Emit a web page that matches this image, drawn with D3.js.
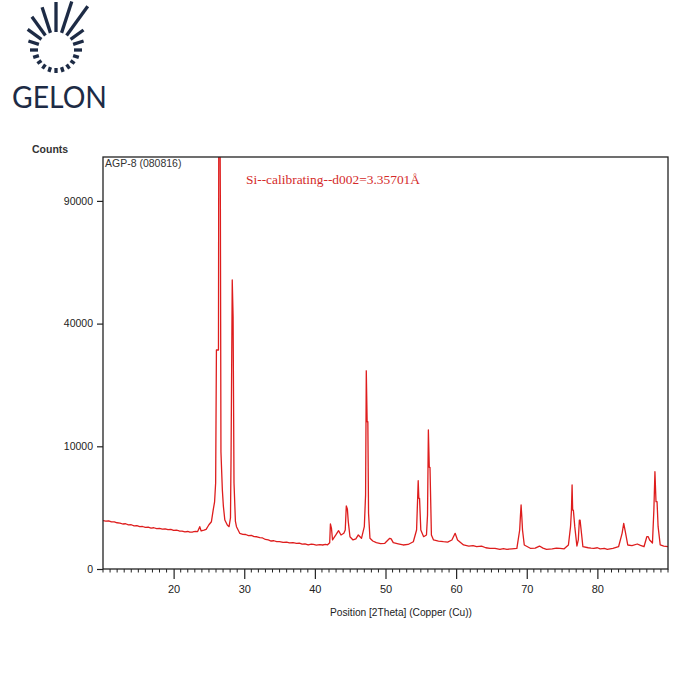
<!DOCTYPE html>
<html><head><meta charset="utf-8">
<script src="https://cdn.jsdelivr.net/npm/d3@7"></script>
<style>html,body{margin:0;padding:0;background:#fff;}svg{display:block;}</style>
</head><body>
<svg id="c" width="700" height="700"></svg>
<script>
// ---- data ----
const twoTheta = [10.0,10.4,10.8,11.2,11.6,12.0,12.4,12.8,13.2,13.6,14.0,14.4,14.8,15.2,15.6,16.0,16.4,16.8,17.2,17.6,18.0,18.4,18.8,19.2,19.6,20.0,20.4,20.8,21.2,21.6,22.0,22.3,22.7,23.1,23.4,23.7,23.9,24.3,24.6,25.0,25.35,25.6,25.8,25.95,26.06,26.35,26.40,26.55,26.62,26.70,26.90,27.05,27.25,27.6,27.85,28.05,28.13,28.30,28.42,28.55,28.75,28.9,29.36,29.8,30.2,30.6,31.0,31.4,31.8,32.2,32.6,33.0,33.4,33.8,34.2,34.6,35.0,35.5,36.0,36.4,36.9,37.4,37.8,38.2,38.6,39.05,39.5,39.8,40.2,40.7,41.1,41.5,41.8,42.1,42.2,42.35,42.5,42.97,43.35,43.7,44.1,44.3,44.45,44.6,44.73,44.97,45.4,45.8,46.15,46.6,47.0,47.18,47.28,47.40,47.5,47.6,47.8,48.2,48.7,49.3,49.9,50.6,50.8,51.1,51.8,52.5,53.2,53.94,54.4,54.55,54.63,54.72,54.82,55.0,55.4,55.8,55.95,56.07,56.2,56.3,56.5,56.8,57.5,58.2,58.8,59.4,59.86,60.2,61.05,61.8,62.4,62.9,63.6,64.2,64.8,65.5,66.2,66.7,67.2,67.9,68.6,69.0,69.1,69.2,69.3,69.4,69.65,70.5,71.2,71.8,72.3,72.8,73.6,74.2,74.7,75.3,75.9,76.2,76.33,76.42,76.5,76.6,76.8,77.1,77.3,77.45,77.55,77.7,77.95,78.7,79.1,79.5,80.0,80.4,81.0,81.4,82.2,83.0,83.5,83.73,84.0,84.3,84.9,85.65,86.1,86.6,87.0,87.2,87.4,87.8,88.0,88.15,88.3,88.45,88.6,88.9,89.4,90.0];
const counts = [1550,1520,1540,1470,1480,1420,1400,1345,1360,1290,1300,1240,1250,1190,1200,1150,1160,1110,1130,1080,1100,1060,1070,1030,1040,990,1000,960,950,920,935,900,910,940,930,1190,960,1000,1045,1300,1485,2310,3000,4910,31860,31860,150000,150000,88000,9140,4150,2580,1595,1285,1190,1730,8130,55500,42300,4910,1500,1190,845,800,790,740,750,700,690,650,640,580,560,520,530,495,500,470,480,450,460,438,445,410,420,383,410,400,380,395,383,400,390,460,1345,1100,560,770,975,770,850,1010,2640,2400,1490,693,560,600,770,626,1190,3640,26100,14400,14400,2060,626,520,460,430,438,626,600,460,420,383,400,495,1010,3320,5180,3320,3320,1010,693,770,1940,12830,6870,6870,770,560,520,495,480,560,845,560,383,350,360,330,346,300,285,285,258,275,258,270,285,1010,1820,2720,1820,1010,383,285,290,350,290,258,270,290,285,270,383,1190,2310,4690,2310,2310,1190,350,560,1590,1590,1010,330,300,290,285,300,270,280,258,280,330,845,1385,845,383,360,415,370,330,693,693,560,450,2310,6290,3010,3010,1190,383,350,330];
const yTicks = [0, 10000, 40000, 90000];
const xTicks = [20, 30, 40, 50, 60, 70, 80];
const xMinorTicks = d3.range(10, 91, 1);
const sampleLabel = "AGP-8  (080816)";
const noteLabel = "Si--calibrating--d002=3.35701Å";
const yTitle = "Counts";
const xTitle = "Position [2Theta] (Copper (Cu))";
const brand = "GELON";
// logo rays: angle (deg clockwise from top) and outer radius
const rayAngles = [0,18,36,54,72,90,108,126,144,162,180,198,216,234,252,270,288,306,324,342];
const rayOuter  = [48,51,54,34,29,26,24,23,23,23,23,23,23,23,24,26,29,35,41,45];

// ---- layout ----
const svg = d3.select("#c");
const L = 103, R = 668, T = 157, B = 569;
const x = d3.scaleLinear().domain([10, 90]).range([L, R]);
const y = d3.scaleSqrt().domain([0, 112750]).range([B, T]);

// logo
const navy = "#1d2b45";
const lg = svg.append("g").attr("transform", "translate(56,50)");
lg.selectAll("line").data(rayAngles).join("line")
  .attr("x1", a => 18 * Math.sin(a * Math.PI / 180))
  .attr("y1", a => -18 * Math.cos(a * Math.PI / 180))
  .attr("x2", (a, i) => rayOuter[i] * Math.sin(a * Math.PI / 180))
  .attr("y2", (a, i) => -rayOuter[i] * Math.cos(a * Math.PI / 180))
  .attr("stroke", navy).attr("stroke-width", 3.3);
svg.append("text").attr("x", 12).attr("y", 107.5)
  .attr("font-family", "Lato, 'Open Sans', sans-serif").attr("font-size", 30)
  .attr("fill", navy).attr("textLength", 95).attr("lengthAdjust", "spacingAndGlyphs")
  .text(brand);

// clip
svg.append("clipPath").attr("id", "pa").append("rect")
  .attr("x", L).attr("y", T).attr("width", R - L).attr("height", B - T);

// data line
const pts = twoTheta.map((t, i) => [t, counts[i]]);
svg.append("path").datum(pts)
  .attr("clip-path", "url(#pa)")
  .attr("fill", "none").attr("stroke", "#de1d1d").attr("stroke-width", 1.3)
  .attr("stroke-linejoin", "round")
  .attr("d", d3.line().x(d => x(d[0])).y(d => y(d[1])));

// frame
svg.append("rect").attr("x", L).attr("y", T).attr("width", R - L).attr("height", B - T)
  .attr("fill", "none").attr("stroke", "#222").attr("stroke-width", 1.3);

// x axis minor/major ticks
const fnt = "'Liberation Sans', Arial, sans-serif";
svg.append("g").selectAll("line").data(xMinorTicks.filter(v => v % 10 !== 0 || v === 10 || v === 90)).join("line")
  .attr("x1", d => x(d)).attr("x2", d => x(d)).attr("y1", B).attr("y2", B + 3.5)
  .attr("stroke", "#222").attr("stroke-width", 1);
const xa = svg.append("g").attr("transform", `translate(0,${B})`)
  .call(d3.axisBottom(x).tickValues(xTicks).tickSize(10).tickFormat(d3.format("d")).tickPadding(6));
xa.select(".domain").remove();
xa.selectAll("line").attr("stroke", "#222").attr("stroke-width", 1.2);
xa.selectAll("text").attr("font-family", fnt).attr("font-size", 11).attr("fill", "#222");

// y axis
const ya = svg.append("g").attr("transform", `translate(${L},0)`)
  .call(d3.axisLeft(y).tickValues(yTicks).tickSize(6).tickFormat(d3.format("d")).tickPadding(4));
ya.select(".domain").remove();
ya.selectAll("line").attr("stroke", "#222").attr("stroke-width", 1.2);
ya.selectAll("text").attr("font-family", fnt).attr("font-size", 10.5).attr("fill", "#222");

// texts
svg.append("text").attr("x", 32).attr("y", 153).attr("font-family", fnt).attr("font-size", 10.5)
  .attr("font-weight", "bold").attr("fill", "#333").text(yTitle);
svg.append("text").attr("x", 105).attr("y", 167).attr("font-family", fnt).attr("font-size", 10.5)
  .attr("fill", "#333").text(sampleLabel);
svg.append("text").attr("x", 246).attr("y", 184).attr("font-family", "'Liberation Serif', 'Times New Roman', serif")
  .attr("font-size", 13).attr("fill", "#d42a2a").attr("textLength", 174).attr("lengthAdjust", "spacingAndGlyphs")
  .text(noteLabel);
svg.append("text").attr("x", 401).attr("y", 616).attr("text-anchor", "middle").attr("font-family", fnt)
  .attr("font-size", 11).attr("fill", "#222").attr("textLength", 142).attr("lengthAdjust", "spacingAndGlyphs")
  .text(xTitle);
</script>
</body></html>
